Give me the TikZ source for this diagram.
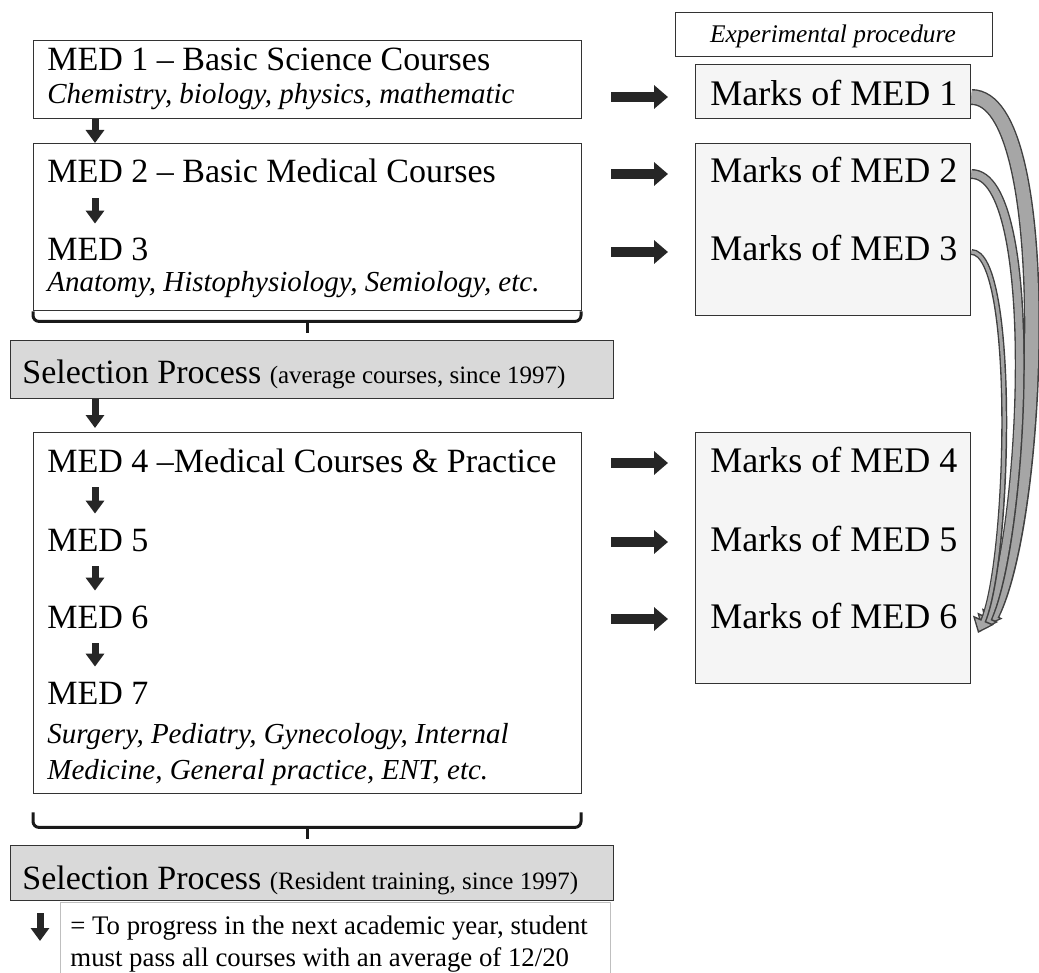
\documentclass[tikz,border=0pt]{standalone}
\usepackage{fontspec}
\setmainfont{Liberation Serif}
\usetikzlibrary{arrows.meta}

\begin{document}
\begin{tikzpicture}[x=0.5pt, y=-0.5pt,
    lbox/.style={draw=black!80, line width=0.7pt, fill=white, anchor=north west, inner sep=0},
    gbox/.style={lbox, fill=black!15},
    rbox/.style={lbox, fill=black!4},
    txt/.style={anchor=base west, inner sep=0, text height=12pt, text depth=3pt, font=\fontsize{17}{20}\selectfont},
    sub/.style={txt, font=\fontsize{14.5}{17}\selectfont\itshape},
    marktxt/.style={txt, font=\fontsize{18}{21}\selectfont},
    notetxt/.style={txt, font=\fontsize{13.4}{16}\selectfont},
    darr/.style={black!85, line width=3.5pt, -{Triangle[length=6.5pt, width=9pt]}},
    barr/.style={black!85, line width=5pt, -{Triangle[length=7pt, width=11.5pt]}, shorten <=14.5pt, shorten >=13.5pt},
    brace/.style={black!90, line width=1.5pt, rounded corners=3pt}]
  \useasboundingbox (0,0) rectangle (1039,973);

  % left column
  \node[lbox, minimum width=274pt, minimum height=39pt] (med1) at (33,40) {};
  \node[lbox, minimum width=274pt, minimum height=83.5pt] (med2) at (33,143) {};
  \node[gbox, minimum width=301.5pt, minimum height=29pt] (sel1) at (10,340) {};
  \node[lbox, minimum width=274pt, minimum height=180.5pt] (med4) at (33,432) {};
  \node[gbox, minimum width=301.5pt, minimum height=27.5pt] (sel2) at (10,845) {};
  \node[lbox, draw=black!25, minimum width=275pt, minimum height=45pt] (legend) at (60,902) {};

  \node[txt] (t1) at (47,71) {MED 1 – Basic Science Courses};
  \node[sub] (s1) at (47,104) {Chemistry, biology, physics, mathematic};
  \node[txt] (t2) at (47,183) {MED 2 – Basic Medical Courses};
  \node[txt] (t3) at (47,261) {MED 3};
  \node[sub] (s3) at (47,292) {Anatomy, Histophysiology, Semiology, etc.};
  \node[txt] (p1) at (22,383) {Selection Process {\fontsize{12.5}{15}\selectfont(average courses, since 1997)}};
  \node[txt] (t4) at (47,472) {MED 4 –Medical Courses \& Practice};
  \node[txt] (t5) at (47,551) {MED 5};
  \node[txt] (t6) at (47,628) {MED 6};
  \node[txt] (t7) at (47,704) {MED 7};
  \node[sub] (s7a) at (47,743) {Surgery, Pediatry, Gynecology, Internal};
  \node[sub] (s7b) at (47,779) {Medicine, General practice, ENT, etc.};
  \node[txt] (p2) at (22,889) {Selection Process {\fontsize{12.5}{15}\selectfont(Resident training, since 1997)}};
  \node[notetxt] (n1) at (70,934) {= To progress in the next academic year, student};
  \node[notetxt] (n2) at (70,966) {must pass all courses with an average of 12/20};

  % right column
  \node[lbox, minimum width=158.5pt, minimum height=22pt] (exp) at (675,12) {};
  \node[rbox, minimum width=137.5pt, minimum height=27pt] (mb1) at (695,64) {};
  \node[rbox, minimum width=137.5pt, minimum height=86pt] (mb2) at (695,143) {};
  \node[rbox, minimum width=137.5pt, minimum height=125.5pt] (mb4) at (695,432) {};
  \node[anchor=base, inner sep=0, font=\fontsize{12.7}{15}\selectfont\itshape] (expt) at (833,43) {Experimental procedure};
  \foreach \i/\y in {1/106, 2/183, 3/261, 4/472, 5/551, 6/628}
    \node[marktxt] (mk\i) at (710,\y) {Marks of MED \i};

  % block arrows
  \draw[barr] (med1.east |- mk1) -- (mb1.west |- mk1);
  \draw[barr] (med2.east |- mk2) -- (mb2.west |- mk2);
  \draw[barr] (med2.east |- mk3) -- (mb2.west |- mk3);
  \foreach \i in {4,5,6}
    \draw[barr] (med4.east |- mk\i) -- (mb4.west |- mk\i);

  % down arrows
  \coordinate (ax) at (95,0);
  \draw[darr] (med1.south -| ax) -- (med2.north -| ax);
  \draw[darr, shorten <=4.5pt, shorten >=6.5pt] (t2.south -| ax) -- (t3.north -| ax);
  \draw[darr, shorten >=2pt] (sel1.south -| ax) -- (med4.north -| ax);
  \foreach \a/\b in {4/5, 5/6, 6/7}
    \draw[darr, shorten <=4.5pt, shorten >=6.5pt] (t\a.south -| ax) -- (t\b.north -| ax);
  \coordinate (la) at (40,913);
  \draw[darr] (la) -- ++(0,28);

  % brackets
  \draw[brace] (med2.south west) -- ++(0,10) -- ++(548,0) -- ++(0,-10);
  \draw[brace] (med2.south) ++(0,10) -- ++(0,12);
  \draw[brace] ([yshift=-9pt]med4.south west) -- ++(0,15) -- ++(548,0) -- ++(0,-15);
  \draw[brace] (med4.south) ++(0,33) -- ++(0,12);

  % curved arrows
  \coordinate (e1) at (986,626);
  \coordinate (e2) at (982,630);
  \coordinate (e3) at (978,633);
  \foreach \i/\w/\v/\a/\b/\c in {1/8/6.6/85/55/110, 2/5/3.6/70/43/95, 3/3/1.6/45/32/75}{
    \draw[line width=\w pt, black!75, -{Triangle[length=7pt, width=11pt]}]
      (mb1.east |- mk\i) .. controls +(\a,0) and +(\b,-\c) .. (e\i);
    \draw[line width=\v pt, black!35, shorten >=1.2pt, -{Triangle[length=5pt, width=8pt]}]
      (mb1.east |- mk\i) .. controls +(\a,0) and +(\b,-\c) .. (e\i);
  }
\end{tikzpicture}
\end{document}
